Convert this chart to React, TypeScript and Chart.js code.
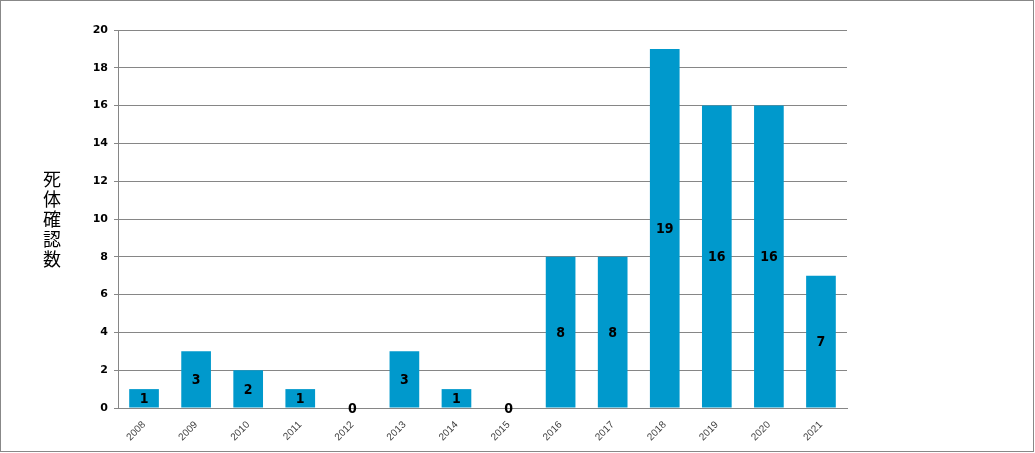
import React, { useEffect, useRef } from "react";
import { Chart, registerables } from "chart.js";

Chart.register(...registerables);

const categories = ["2008", "2009", "2010", "2011", "2012", "2013", "2014", "2015", "2016", "2017", "2018", "2019", "2020", "2021"];
const deaths = [1, 3, 2, 1, 0, 3, 1, 0, 8, 8, 19, 16, 16, 7];
const yTitleChars = ["死", "体", "確", "認", "数"];
const yMax = 20;
const yStep = 2;

const barColor = "#0099CC";
const gridColor = "#868686";

const labelPlugin = {
  id: "barLabels",
  afterDatasetsDraw(chart: any) {
    const ctx = chart.ctx;
    const meta = chart.getDatasetMeta(0);
    const yScale = chart.scales.y;
    ctx.save();
    ctx.font = 'bold 14px "DejaVu Sans Condensed", "DejaVu Sans", sans-serif';
    ctx.fillStyle = "#000000";
    ctx.textAlign = "center";
    ctx.textBaseline = "middle";
    meta.data.forEach((bar: any, i: number) => {
      const v = deaths[i];
      const yTop = yScale.getPixelForValue(v);
      const yBase = yScale.getPixelForValue(0);
      const yMid = (yTop + yBase) / 2;
      ctx.fillText(String(v), bar.x, yMid + 1);
    });
    ctx.restore();
  },
};

const yTitlePlugin = {
  id: "yTitleVertical",
  afterDraw(chart: any) {
    const ctx = chart.ctx;
    const area = chart.chartArea;
    const cy = (area.top + area.bottom) / 2;
    const pitch = 20;
    const n = yTitleChars.length;
    ctx.save();
    ctx.font = '18px "Noto Sans CJK JP", sans-serif';
    ctx.fillStyle = "#000000";
    ctx.textAlign = "center";
    ctx.textBaseline = "middle";
    yTitleChars.forEach((c, i) => {
      ctx.fillText(c, 51, cy + (i - (n - 1) / 2) * pitch);
    });
    ctx.restore();
  },
};

export default function App() {
  const canvasRef = useRef<HTMLCanvasElement | null>(null);

  useEffect(() => {
    document.body.style.margin = "0";
    const canvas = canvasRef.current;
    if (!canvas) return;
    const chart = new Chart(canvas, {
      type: "bar",
      data: {
        labels: categories,
        datasets: [
          {
            data: deaths,
            backgroundColor: barColor,
            borderWidth: 0,
            categoryPercentage: 1,
            barPercentage: 0.57,
          },
        ],
      },
      options: {
        animation: false,
        responsive: false,
        maintainAspectRatio: false,
        layout: { padding: { left: 0, right: 186, top: 29, bottom: 0 } },
        plugins: {
          legend: { display: false },
          tooltip: { enabled: false },
        },
        scales: {
          x: {
            grid: { display: false, drawTicks: false },
            border: { display: true, color: gridColor },
            ticks: {
              minRotation: 45,
              maxRotation: 45,
              padding: 11,
              color: "#404040",
              font: { family: '"Liberation Sans", sans-serif', size: 10 },
            },
            afterFit: (s: any) => {
              s.height = 43;
            },
          },
          y: {
            min: 0,
            max: yMax,
            grid: { color: gridColor, tickLength: 4, drawTicks: true },
            border: { display: true, color: gridColor },
            ticks: {
              stepSize: yStep,
              padding: 6,
              color: "#000000",
              font: { family: '"DejaVu Sans", sans-serif', size: 11, weight: "bold" },
            },
            afterFit: (s: any) => {
              s.width = 117;
            },
          },
        },
      },
      plugins: [labelPlugin, yTitlePlugin],
    });
    return () => chart.destroy();
  }, []);

  return (
    <div
      style={{
        position: "fixed",
        left: 0,
        top: 0,
        width: 1034,
        height: 452,
        boxSizing: "border-box",
        border: "1px solid #888888",
        background: "#ffffff",
      }}
    >
      <canvas ref={canvasRef} width={1032} height={450} style={{ display: "block", width: 1032, height: 450 }} />
    </div>
  );
}
